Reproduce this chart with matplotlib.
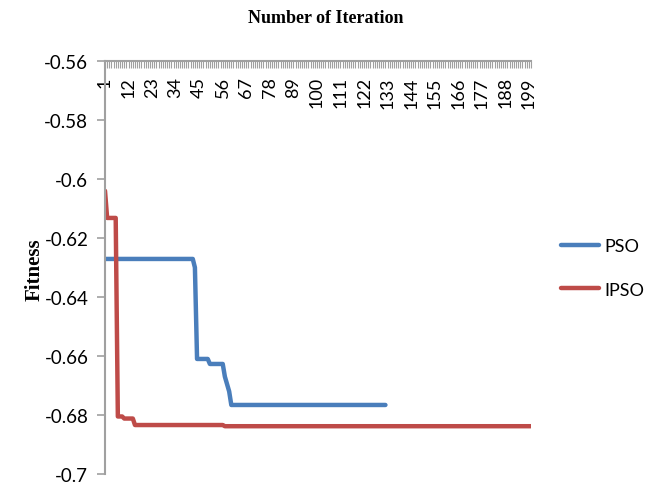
import numpy as np
import matplotlib
matplotlib.use('Agg')
import matplotlib.pyplot as plt

# breakpoints (iteration, fitness); Excel joins points with straight lines
pso_iter = [1, 42, 43, 44, 49, 50, 56, 57, 58, 59, 60, 132]
pso_fit = [-0.6271, -0.6271, -0.6300, -0.6610, -0.6610, -0.6627, -0.6627,
           -0.6670, -0.6695, -0.6720, -0.6766, -0.6766]

ipso_iter = [1, 2, 6, 7, 9, 10, 14, 15, 56, 57, 200]
ipso_fit = [-0.6040, -0.6132, -0.6132, -0.6805, -0.6805, -0.6812, -0.6812,
            -0.6834, -0.6834, -0.6838, -0.6838]

n_cat = 200
tick_labels = list(range(1, 200, 11))
y_ticks = [-0.56, -0.58, -0.6, -0.62, -0.64, -0.66, -0.68, -0.7]
y_labels = ['-0.56', '-0.58', '-0.6', '-0.62', '-0.64', '-0.66', '-0.68', '-0.7']

sans = ['Lato', 'DejaVu Sans']
serif = ['Liberation Serif', 'DejaVu Serif']
grey = '#a0a0a0'

fig = plt.figure(figsize=(6.45, 4.85), dpi=100)
ax = fig.add_axes([105/645., 10/485., 426/645., 413/485.])

ax.plot(pso_iter, pso_fit, color='#4a7ebb', lw=3.2, solid_capstyle='round',
        solid_joinstyle='round', label='PSO')
ax.plot(ipso_iter, ipso_fit, color='#be4b48', lw=3.2, solid_capstyle='round',
        solid_joinstyle='round', label='IPSO')

ax.set_xlim(1, n_cat)
ax.set_ylim(-0.7, -0.56)

for s in ['bottom', 'right']:
    ax.spines[s].set_visible(False)
for s in ['top', 'left']:
    ax.spines[s].set_color(grey)
    ax.spines[s].set_linewidth(1.5)

# category axis sits on top (crosses at -0.56), labels below it
ax.set_xticks(tick_labels)
ax.set_xticklabels([str(t) for t in tick_labels], fontfamily=sans, fontsize=13,
                   rotation=90)
ax.set_xticks(range(1, n_cat + 1), minor=True)
ax.tick_params(axis='x', which='both', bottom=False, labelbottom=False, top=True,
               labeltop=True, direction='in', length=5, width=0.8, color=grey,
               pad=-11)
for lbl in ax.get_xticklabels():
    lbl.set_va('top')

ax.set_yticks(y_ticks)
ax.set_yticklabels(y_labels, fontfamily=sans, fontsize=13.5)
ax.tick_params(axis='y', direction='out', length=6, width=1.2, color=grey, pad=6)

fig.text(0.505, 0.962, 'Number of Iteration', ha='center', va='center',
         fontfamily=serif, fontweight='bold', fontsize=13)
fig.text(0.054, 1 - 270/485., 'Fitness', ha='center', va='center', rotation=90,
         fontfamily=serif, fontweight='bold', fontsize=15)

fig.legend(loc='center left', bbox_to_anchor=(554/645., 1 - 269/485.), frameon=False,
           prop={'family': sans, 'size': 13}, handlelength=2.1, handletextpad=0.3,
           labelspacing=1.5, borderaxespad=0)

fig.savefig('out.png', dpi=100)
